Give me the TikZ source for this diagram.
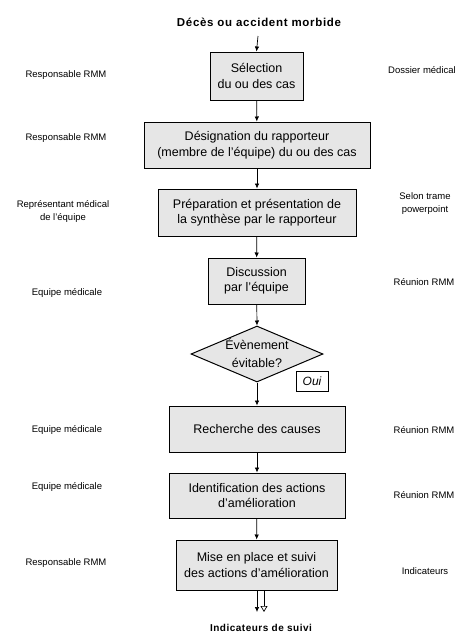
\documentclass[tikz,border=0pt]{standalone}
\usepackage{fontspec}
\setmainfont{Liberation Sans}
\usetikzlibrary{arrows.meta,shapes.geometric}
\definecolor{boxgray}{HTML}{E6E6E6}
\tikzset{
  box/.style={draw, line width=1pt, fill=boxgray, align=center, inner sep=0pt, font=\fontsize{12.5}{15.5}\selectfont},
  side/.style={align=center, inner sep=0pt, font=\fontsize{9.5}{13}\selectfont},
  arr/.style={-{Latex[length=5pt,width=4.5pt]}, line width=0.7pt},
  oarr/.style={-{Triangle[open,length=6pt,width=7pt]}, line width=0.7pt},
}
\begin{document}
\begin{tikzpicture}[x=1pt,y=-1pt]
\useasboundingbox (0,0) rectangle (465,635);
% title
\node[font=\bfseries\fontsize{11.5}{13}\selectfont\addfontfeatures{LetterSpace=6}, inner sep=0pt] (title) at (259,22) {Décès ou accident morbide};
\coordinate (tstart) at (258,36);
% boxes
\node[box, minimum width=93pt, minimum height=48pt] (b1) at (256.5,76) {Sélection\\du ou des cas};
\node[box, minimum width=226pt, minimum height=46pt] (b2) at (257,145) {Désignation du rapporteur\\(membre de l'équipe) du ou des cas};
\node[box, minimum width=198pt, minimum height=47pt] (b3) at (257,212.5) {Préparation et présentation de\\la synthèse par le rapporteur};
\node[box, minimum width=97pt, minimum height=46pt] (b4) at (256.5,281) {Discussion\\par l'équipe};
\node[draw, line width=1pt, fill=boxgray, diamond, minimum width=132pt, minimum height=56pt, inner sep=0pt] (d) at (257,354) {};
\node[align=center, inner sep=0pt, font=\fontsize{12.5}{18}\selectfont] (dt) at (257,353) {Évènement\\évitable?};
\node[draw, line width=0.8pt, fill=white, minimum width=32pt, minimum height=20pt, inner sep=0pt, font=\itshape\fontsize{12}{14}\selectfont] (oui) at (312,381.5) {Oui};
\node[box, minimum width=176pt, minimum height=46pt] (b5) at (257,429) {Recherche des causes};
\node[box, minimum width=176pt, minimum height=45pt] (b6) at (257,495.5) {Identification des actions\\d'amélioration};
\node[box, minimum width=161pt, minimum height=50pt] (b7) at (256.5,565) {Mise en place et suivi\\des actions d'amélioration};
\node[font=\bfseries\fontsize{10}{12}\selectfont\addfontfeatures{LetterSpace=5}, inner sep=0pt] (bottom) at (261,628) {Indicateurs de suivi};
% connectors
\draw[arr] (tstart) -- (b1.north);
\draw[arr] (b1) -- (b2);
\draw[arr] (b2) -- (b3);
\draw[arr] (b3) -- (b4);
\draw[arr] (b4) -- (d.north);
\draw[arr] (d.south) -- (b5.north);
\draw[arr] (b5) -- (b6);
\draw[arr] (b6) -- (b7);
\coordinate (e1s) at (257,590);
\coordinate (e1) at (257,612);
\coordinate (e2s) at (264,590);
\coordinate (e2) at (264,612);
\draw[arr] (e1s) -- (e1);
\draw[oarr] (e2s) -- (e2);
% left labels
\node[side] (l1) at (66,75) {Responsable RMM};
\node[side] (l2) at (66,138) {Responsable RMM};
\node[side] (l3) at (63,211) {Représentant médical\\de l'équipe};
\node[side] (l4) at (67,293) {Equipe médicale};
\node[side] (l5) at (67,430) {Equipe médicale};
\node[side] (l6) at (67,487) {Equipe médicale};
\node[side] (l7) at (66,563) {Responsable RMM};
% right labels
\node[side, anchor=west] (r1) at (388,70) {Dossier médical};
\node[side] (r2) at (425,204) {Selon trame\\powerpoint};
\node[side] (r3) at (424,282) {Réunion RMM};
\node[side] (r4) at (424,430) {Réunion RMM};
\node[side] (r5) at (424,495) {Réunion RMM};
\node[side] (r6) at (425,571) {Indicateurs};
\end{tikzpicture}
\end{document}
